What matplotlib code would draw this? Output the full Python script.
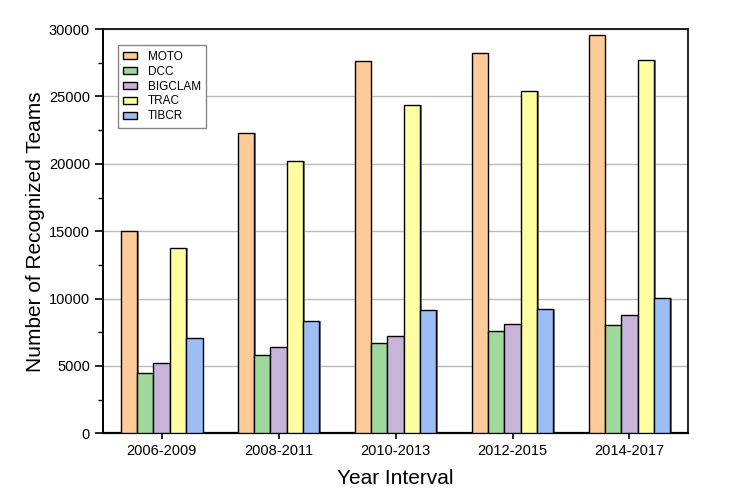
import numpy as np
import matplotlib
matplotlib.use("Agg")
import matplotlib.pyplot as plt
from matplotlib.ticker import MultipleLocator

plt.rcParams['font.family'] = ['Liberation Sans', 'DejaVu Sans']

intervals = ["2006-2009", "2008-2011", "2010-2013", "2012-2015", "2014-2017"]
methods = ["MOTO", "DCC", "BIGCLAM", "TRAC", "TIBCR"]
moto = [15000, 22320, 27650, 28250, 29600]
dcc = [4480, 5820, 6690, 7560, 8040]
bigclam = [5200, 6370, 7250, 8110, 8780]
trac = [13750, 20240, 24380, 25400, 27720]
tibcr = [7100, 8360, 9150, 9230, 10050]
values = [moto, dcc, bigclam, trac, tibcr]
colors = ["#FFCC99", "#9ED89D", "#C7B4D8", "#FFFFA2", "#9DBDF5"]

fig = plt.figure(figsize=(7.47, 4.94), dpi=100)
ax = fig.add_axes([0.138, 0.123, 0.783, 0.818])

x = np.arange(len(intervals))
w = 0.14
for i, (name, vals, c) in enumerate(zip(methods, values, colors)):
    pos = x + (i - 2) * w
    # grey drop shadow on the right side
    ax.bar(pos + 0.013, vals, width=w, color="#808080", edgecolor="none", zorder=2)
    ax.bar(pos, vals, width=w, color=c, edgecolor="black", linewidth=1.0,
           label=name, zorder=3)

ax.set_xlim(-0.5, 4.5)
ax.set_ylim(0, 30000)
ax.set_xticks(x)
ax.set_xticklabels(intervals, fontsize=10.5)
ax.yaxis.set_major_locator(MultipleLocator(5000))
ax.yaxis.set_minor_locator(MultipleLocator(2500))
ax.tick_params(axis='y', which='major', direction='out', length=6, width=1.2, labelsize=10.5)
ax.tick_params(axis='y', which='minor', direction='out', length=3.5, width=1.0)
ax.tick_params(axis='x', which='major', direction='out', length=4, width=1.2)
ax.grid(axis='y', color="#bbbbbb", linewidth=1.0, zorder=0)
ax.set_axisbelow(True)

for s in ax.spines.values():
    s.set_linewidth(1.2)
ax.spines['bottom'].set_linewidth(1.6)
ax.spines['left'].set_linewidth(1.4)

ax.set_xlabel("Year Interval", fontsize=15, labelpad=8)
ax.set_ylabel("Number of Recognized Teams", fontsize=15, labelpad=3)

leg = ax.legend(loc='upper left', bbox_to_anchor=(0.025, 0.96), borderaxespad=0,
                fontsize=8.5, fancybox=False, framealpha=1, edgecolor="#888888",
                handlelength=1.2, handleheight=0.5, labelspacing=0.25,
                handletextpad=0.9, borderpad=0.45)
leg.get_frame().set_linewidth(1.0)

fig.savefig("out.png", dpi=100)
